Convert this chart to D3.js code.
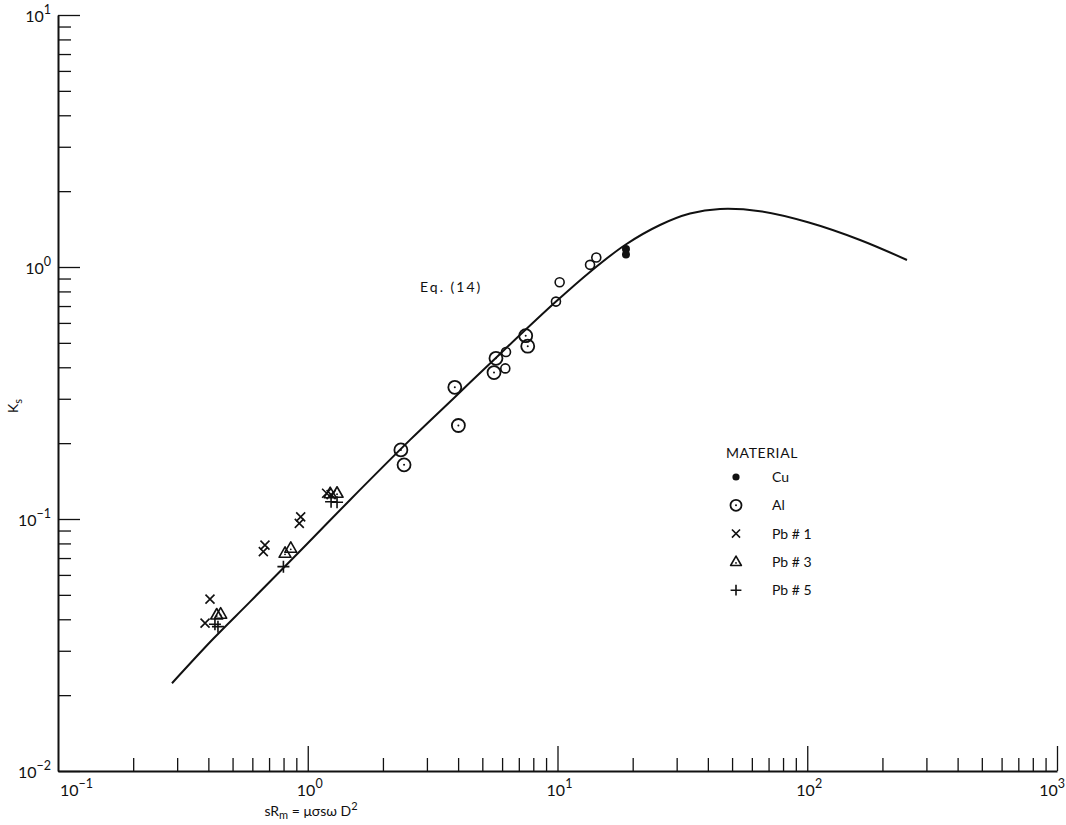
<!DOCTYPE html>
<html>
<head>
<meta charset="utf-8">
<script src="https://cdn.jsdelivr.net/npm/d3@7/dist/d3.min.js"></script>
<style>
  html, body { margin: 0; padding: 0; background: #fff; }
  svg { display: block; }
  text { font-family: Lato, "DejaVu Sans", sans-serif; fill: #111; }
</style>
</head>
<body>
<svg id="chart" width="1066" height="825"></svg>
<script>
// Theoretical curve, Eq. (14)
const curveX = [0.286, 0.4175, 0.587, 0.993, 1.476, 2.568, 3.888, 5.886, 9.863, 13.49, 18.64, 25.73, 33.93, 44.74, 64.69, 100.7, 162.7, 250.8];
const curveY = [0.0223, 0.0334, 0.0469, 0.0796, 0.119, 0.206, 0.305, 0.452, 0.729, 0.956, 1.223, 1.468, 1.630, 1.700, 1.665, 1.505, 1.280, 1.066];

// Measured points by material
const cuX = [18.8, 18.8];
const cuY = [1.18, 1.12];
const alDottedX = [2.36, 2.43, 3.88, 4.01, 5.67, 5.57, 7.46, 7.60];
const alDottedY = [0.188, 0.164, 0.333, 0.235, 0.434, 0.381, 0.534, 0.485];
const alOpenX = [6.22, 6.18, 9.86, 10.2, 13.5, 14.3];
const alOpenY = [0.460, 0.396, 0.729, 0.870, 1.02, 1.09];
const pb1X = [0.406, 0.388, 0.674, 0.664, 0.937, 0.925, 1.19, 1.24];
const pb1Y = [0.0481, 0.0386, 0.0788, 0.0742, 0.102, 0.0961, 0.1265, 0.125];
const pb3X = [0.432, 0.448, 0.811, 0.855, 1.23, 1.31];
const pb3Y = [0.0416, 0.0419, 0.0731, 0.0765, 0.126, 0.1265];
const pb5X = [0.425, 0.437, 0.799, 1.24, 1.31];
const pb5Y = [0.0382, 0.0374, 0.0647, 0.117, 0.1165];

// Axes
const xDecades = [0.1, 1, 10, 100, 1000];
const yDecades = [0.01, 0.1, 1, 10];
const xTickExps = [-1, 0, 1, 2, 3];
const yTickExps = [-2, -1, 0, 1];
const minorMultipliers = [2, 3, 4, 5, 6, 7, 8, 9];

const legendTitle = "MATERIAL";
const legendLabels = ["Cu", "Al", "Pb # 1", "Pb # 3", "Pb # 5"];
const legendKinds = ["filled", "dotted", "cross", "triangle", "plus"];

const svg = d3.select("#chart");
const x = d3.scaleLog().domain([0.1, 1000]).range([58, 1057]);
const y = d3.scaleLog().domain([0.01, 10]).range([771, 15]);

const minorsOf = decades => decades.slice(0, -1).flatMap(d => minorMultipliers.map(m => m * d));

// x axis: ticks pointing up into the plot
const gx = svg.append("g").attr("transform", "translate(0,771)");
gx.call(d3.axisBottom(x).tickValues(minorsOf(xDecades)).tickSizeInner(-13).tickSizeOuter(0).tickFormat(""));
gx.append("g").call(d3.axisBottom(x).tickValues(xDecades.slice(1)).tickSizeInner(-25).tickSizeOuter(0).tickFormat(""))
  .select(".domain").remove();

// y axis: ticks pointing right into the plot
const gy = svg.append("g").attr("transform", "translate(58,0)");
gy.call(d3.axisLeft(y).tickValues(minorsOf(yDecades)).tickSizeInner(-13).tickSizeOuter(0).tickFormat(""));
gy.append("g").call(d3.axisLeft(y).tickValues(yDecades).tickSizeInner(-22).tickSizeOuter(0).tickFormat(""))
  .select(".domain").remove();

svg.selectAll(".domain").attr("stroke", "#111").attr("stroke-width", 2);
svg.selectAll(".tick line").attr("stroke", "#111").attr("stroke-width", 1.3);

// power-of-ten tick labels
function powerLabel(sel, exp) {
  sel.append("tspan").text("10");
  sel.append("tspan").attr("dy", -8).attr("font-size", 12.5).text(exp < 0 ? "\u2212" + (-exp) : String(exp));
}
xTickExps.forEach((e, i) => {
  const px = x(xDecades[i]);
  const last = i === xTickExps.length - 1;
  const t = svg.append("text").attr("font-size", 16).attr("y", 796)
    .attr("x", i === 0 ? px + 2 : last ? 1065 : px + 2)
    .attr("text-anchor", i === 0 ? "start" : last ? "end" : "middle");
  powerLabel(t, e);
});
yTickExps.forEach((e, i) => {
  const py = y(yDecades[i]);
  const t = svg.append("text").attr("font-size", 16).attr("x", 51).attr("y", py + 7).attr("text-anchor", "end");
  powerLabel(t, e);
});

// axis titles
const xt = svg.append("text").attr("x", 311).attr("y", 816).attr("text-anchor", "middle").attr("font-size", 14);
xt.append("tspan").text("sR");
xt.append("tspan").attr("dy", 3).attr("font-size", 11).text("m");
xt.append("tspan").attr("dy", -3).text(" = \u03bc\u03c3s\u03c9 D");
xt.append("tspan").attr("dy", -6).attr("font-size", 11).text("2");

const yt = svg.append("text").attr("transform", "translate(18,406) rotate(-90)").attr("text-anchor", "middle").attr("font-size", 14);
yt.append("tspan").text("K");
yt.append("tspan").attr("dy", 4).attr("font-size", 11).text("s");

// Eq. (14) curve
const curvePts = curveX.map((v, i) => [v, curveY[i]]);
svg.append("path").datum(curvePts)
  .attr("fill", "none").attr("stroke", "#111").attr("stroke-width", 2)
  .attr("d", d3.line().x(d => x(d[0])).y(d => y(d[1])).curve(d3.curveCatmullRom.alpha(0.5)));

svg.append("text").attr("x", 420).attr("y", 292).attr("font-size", 14).attr("letter-spacing", 2).text("Eq. (14)");

// marker drawing
function drawMarker(g, kind, cx, cy, scale = 1) {
  const k = scale;
  if (kind === "filled") {
    g.append("circle").attr("cx", cx).attr("cy", cy).attr("r", 4 * k).attr("fill", "#111");
  } else if (kind === "dotted") {
    g.append("circle").attr("cx", cx).attr("cy", cy).attr("r", 6.5 * k).attr("fill", "none").attr("stroke", "#111").attr("stroke-width", 1.8);
    g.append("circle").attr("cx", cx).attr("cy", cy).attr("r", 1).attr("fill", "#111");
  } else if (kind === "open") {
    g.append("circle").attr("cx", cx).attr("cy", cy).attr("r", 4.5 * k).attr("fill", "none").attr("stroke", "#111").attr("stroke-width", 1.6);
  } else if (kind === "cross") {
    const s = 4.5 * k;
    g.append("path").attr("d", `M${cx - s},${cy - s}L${cx + s},${cy + s}M${cx + s},${cy - s}L${cx - s},${cy + s}`)
      .attr("stroke", "#111").attr("stroke-width", 1.6).attr("fill", "none");
  } else if (kind === "triangle") {
    const w = 6 * k, h = 10.5 * k;
    g.append("path").attr("d", `M${cx},${cy - h * 0.62}L${cx + w},${cy + h * 0.38}L${cx - w},${cy + h * 0.38}Z`)
      .attr("stroke", "#111").attr("stroke-width", 1.6).attr("fill", "none").attr("stroke-linejoin", "round");
    g.append("circle").attr("cx", cx).attr("cy", cy + 1).attr("r", 0.9).attr("fill", "#111");
  } else if (kind === "plus") {
    const s = 6 * k;
    g.append("path").attr("d", `M${cx - s},${cy}L${cx + s},${cy}M${cx},${cy - s}L${cx},${cy + s}`)
      .attr("stroke", "#111").attr("stroke-width", 1.6).attr("fill", "none");
  }
}

const pts = svg.append("g");
const series = [
  [alDottedX, alDottedY, "dotted"],
  [alOpenX, alOpenY, "open"],
  [cuX, cuY, "filled"],
  [pb1X, pb1Y, "cross"],
  [pb3X, pb3Y, "triangle"],
  [pb5X, pb5Y, "plus"]
];
series.forEach(([xs, ys, kind]) => {
  xs.forEach((v, i) => drawMarker(pts, kind, x(v), y(ys[i])));
});

// legend
const lg = svg.append("g");
lg.append("text").attr("x", 726).attr("y", 458).attr("font-size", 14).attr("letter-spacing", 0.6).text(legendTitle);
legendLabels.forEach((lab, i) => {
  const cy = 477 + i * 28.3;
  drawMarker(lg, legendKinds[i], 736, cy, legendKinds[i] === "dotted" ? 0.85 : 0.9);
  lg.append("text").attr("x", 772).attr("y", cy + 5).attr("font-size", 14).text(lab);
});
</script>
</body>
</html>
